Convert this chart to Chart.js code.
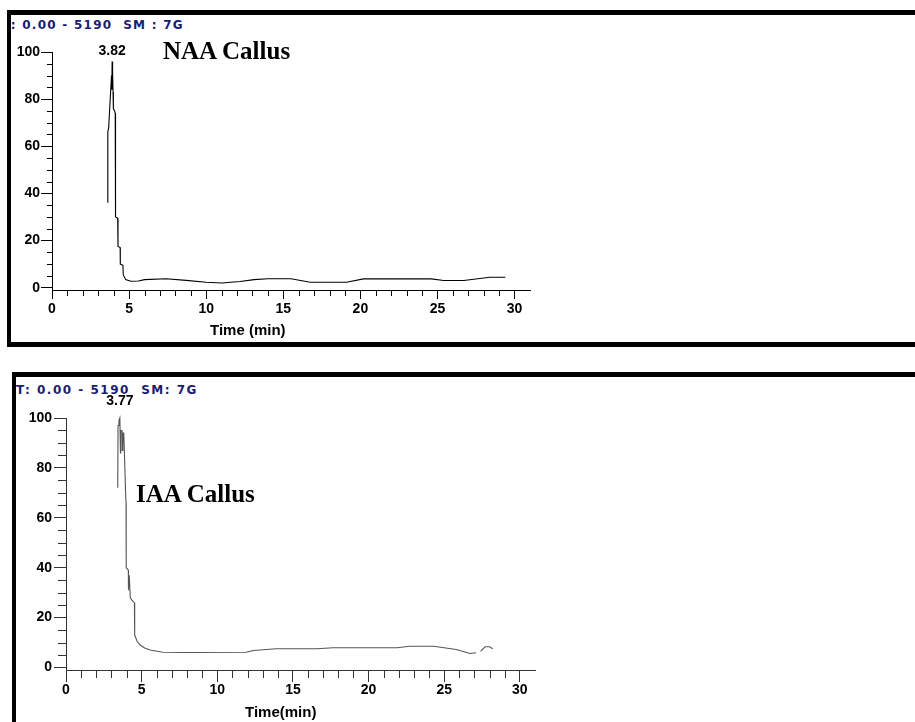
<!DOCTYPE html>
<html>
<head>
<meta charset="utf-8">
<script src="https://cdn.jsdelivr.net/npm/chart.js@4.4.0/dist/chart.umd.min.js"></script>
<style>
  body { margin:0; background:#fff; width:915px; height:722px; overflow:hidden; position:relative; }
  .panel { position:absolute; box-sizing:border-box; border-left:4px solid #000; border-top:5px solid #000; overflow:hidden; }
  #p1 { left:7px; top:10px; width:930px; height:337px; border-bottom:5px solid #000; }
  #p2 { left:12px; top:372px; width:930px; height:360px; }
  .hdr { position:absolute; white-space:pre; font:bold 12px/12px "DejaVu Sans", sans-serif; color:#1c1c6e; }
  .name { position:absolute; white-space:pre; font:bold 25px/25px "Liberation Serif", "Times New Roman", serif; color:#000; }
  .xt { position:absolute; white-space:pre; font:bold 15px/15px "Liberation Sans", Arial, sans-serif; color:#000; }
  canvas { position:absolute; left:0; }
</style>
</head>
<body>
<div class="panel" id="p1"><div class="hdr" style="left:-9px; top:4px; letter-spacing:1.25px;">T: 0.00 - 5190  SM : 7G</div></div>
<div class="panel" id="p2"><div class="hdr" style="left:0px; top:7px; letter-spacing:1.5px;">T: 0.00 - 5190  SM: 7G</div></div>

<canvas id="naaChart" width="600" height="340" style="top:0px;"></canvas>
<canvas id="iaaChart" width="600" height="352" style="top:370px;"></canvas>

<div class="name" style="left:163px; top:38px;">NAA Callus</div>
<div class="name" style="left:136px; top:481px;">IAA Callus</div>
<div class="xt" style="left:210px; top:322px;">Time (min)</div>
<div class="xt" style="left:245px; top:704px;">Time(min)</div>

<script>
// ==============================
// DATA
// ==============================
const xTicks = [0, 5, 10, 15, 20, 25, 30];
const yTicks = [0, 20, 40, 60, 80, 100];

// NAA callus trace (time in min, relative abundance)
const naaTime = [3.62, 3.62, 3.68, 3.70, 3.86, 3.88, 3.90, 3.92, 3.94, 3.96, 3.98, 4.06, 4.10, 4.12,
  4.26, 4.28, 4.42, 4.43, 4.60, 4.62, 4.78, 5.1, 5.6, 6.0, 7.4, 8.7, 10.0, 11.0, 12.2, 13.1, 14.0,
  15.5, 16.75, 19.1, 20.2, 24.6, 25.4, 26.7, 28.4, 29.4];
const naaAbund = [36, 66, 68, 71, 90, 84, 96, 86, 91, 83, 76, 75, 74, 30,
  29.5, 17.5, 17, 10, 9.5, 5.5, 3.4, 2.7, 2.8, 3.4, 3.8, 3.1, 2.3, 2.0, 2.6, 3.4, 3.8,
  3.8, 2.3, 2.3, 3.7, 3.7, 3.0, 3.0, 4.4, 4.4];
const naaPeak = "3.82";

// IAA callus trace
const iaaTime = [3.42, 3.44, 3.50, 3.56, 3.60, 3.62, 3.70, 3.72, 3.76, 3.82, 3.84, 3.95, 3.97, 3.98,
  4.12, 4.13, 4.18, 4.25, 4.35, 4.52, 4.54, 4.7, 4.9, 5.2, 5.55, 6.4, 8.0, 11.9, 12.4, 13.9, 16.6,
  17.65, 21.9, 22.7, 24.3, 25.8, 26.7, 27.1, 27.25, 27.4, 27.7, 28.0, 28.2];
const iaaAbund = [72, 97, 99, 100, 86, 95, 95, 87, 94, 94, 90, 68, 66, 40,
  39, 31, 37, 28, 27, 26, 13, 10.5, 9, 7.8, 7, 6.1, 6, 6.1, 6.8, 7.5, 7.5,
  7.9, 7.9, 8.5, 8.5, 7.2, 5.6, 5.9, null, 6.5, 8.3, 8.3, 7.5];
const iaaPeak = "3.77";

const tickFont = { family: "'Liberation Sans', Arial, sans-serif", size: 14, weight: "bold" };

// ==============================
// PLUGINS
// ==============================
const minorTicks = {
    id: "minorTicks",
    afterDraw(chart, args, opts) {
        const { ctx, scales: { x, y } } = chart;
        ctx.save();
        ctx.strokeStyle = opts.color;
        ctx.lineWidth = 1;
        ctx.beginPath();
        for (let v = 0; v < 31; v++) {
            if (v % 5 === 0) continue;
            const px = Math.round(x.getPixelForValue(v)) + 0.5;
            ctx.moveTo(px, y.bottom);
            ctx.lineTo(px, y.bottom + opts.xLen);
        }
        for (let v = 0; v <= 100; v += 5) {
            if (v % 20 === 0) continue;
            const py = Math.round(y.getPixelForValue(v)) + 0.5;
            ctx.moveTo(x.left - opts.yLen, py);
            ctx.lineTo(x.left, py);
        }
        ctx.stroke();
        ctx.restore();
    }
};

const peakLabel = {
    id: "peakLabel",
    afterDatasetsDraw(chart, args, opts) {
        const pts = chart.data.datasets[0].data;
        let best = pts[0];
        pts.forEach(p => { if (p.y !== null && p.y > best.y) best = p; });
        const { ctx, scales: { x, y } } = chart;
        ctx.save();
        ctx.font = "bold 14px 'Liberation Sans', Arial, sans-serif";
        ctx.fillStyle = opts.color;
        ctx.textAlign = "center";
        ctx.textBaseline = "middle";
        ctx.fillText(opts.text, x.getPixelForValue(best.x), y.getPixelForValue(best.y) - opts.offset);
        ctx.restore();
    }
};

// ==============================
// CHARTS
// ==============================
function makeChart(id, times, values, cfg) {
    const pts = times.map((t, i) => ({ x: t, y: values[i] }));
    return new Chart(document.getElementById(id), {
        type: "line",
        data: {
            datasets: [{
                data: pts,
                borderColor: cfg.lineColor,
                borderWidth: 1.1,
                pointRadius: 0,
                tension: 0,
                spanGaps: false,
                clip: false
            }]
        },
        options: {
            responsive: false,
            animation: false,
            layout: { padding: cfg.padding },
            plugins: {
                legend: { display: false },
                tooltip: { enabled: false },
                minorTicks: { color: cfg.axisColor, xLen: cfg.xMinor, yLen: cfg.yMinor },
                peakLabel: { text: cfg.peak, offset: cfg.peakOffset, color: "#000" }
            },
            scales: {
                x: {
                    type: "linear",
                    min: 0,
                    max: 31,
                    afterBuildTicks: s => { s.ticks = xTicks.map(v => ({ value: v })); },
                    afterFit: s => { s.height = cfg.xHeight; },
                    grid: { drawOnChartArea: false, drawTicks: true, tickLength: cfg.xMajor, color: cfg.axisColor },
                    border: { display: true, color: cfg.axisColor, width: 1 },
                    ticks: { font: tickFont, color: "#000", padding: cfg.xPad, maxRotation: 0, autoSkip: false }
                },
                y: {
                    min: -1,
                    max: 100,
                    afterBuildTicks: s => { s.ticks = yTicks.map(v => ({ value: v })); },
                    afterFit: s => { s.width = cfg.yWidth; },
                    grid: { drawOnChartArea: false, drawTicks: true, tickLength: cfg.yMajor, color: cfg.axisColor },
                    border: { display: true, color: cfg.axisColor, width: 1 },
                    ticks: { font: tickFont, color: "#000", padding: cfg.yPad, autoSkip: false }
                }
            }
        },
        plugins: [minorTicks, peakLabel]
    });
}

makeChart("naaChart", naaTime, naaAbund, {
    lineColor: "#000", axisColor: "#000", peak: naaPeak, peakOffset: 10,
    padding: { left: 0, top: 52, right: 70, bottom: 0 },
    xHeight: 50, yWidth: 52, xMajor: 9, yMajor: 11, xMinor: 6, yMinor: 5, xPad: 2, yPad: 1
});

makeChart("iaaChart", iaaTime, iaaAbund, {
    lineColor: "#555", axisColor: "#333", peak: iaaPeak, peakOffset: 17,
    padding: { left: 0, top: 48, right: 65, bottom: 0 },
    xHeight: 52, yWidth: 66, xMajor: 12, yMajor: 12, xMinor: 8, yMinor: 8, xPad: 0, yPad: 2
});
</script>
</body>
</html>
